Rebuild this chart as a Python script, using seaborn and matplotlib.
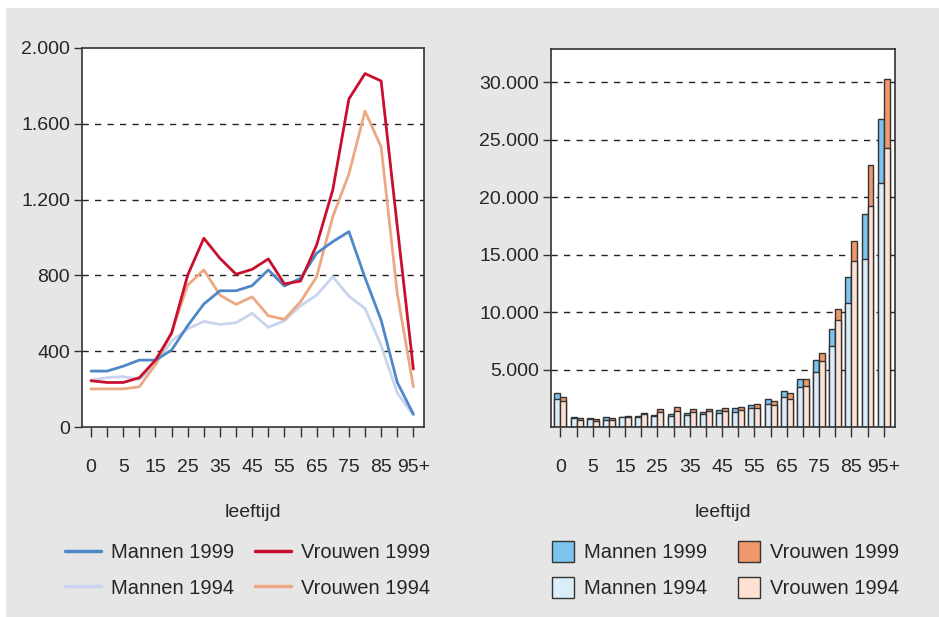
import matplotlib
matplotlib.use("Agg")
import matplotlib.pyplot as plt
import seaborn as sns
import pandas as pd
from matplotlib.patches import Rectangle, Patch
from matplotlib.lines import Line2D
from matplotlib import font_manager

# ---------------- data ----------------
ages = ['0', '1', '5', '10', '15', '20', '25', '30', '35', '40', '45', '50',
        '55', '60', '65', '70', '75', '80', '85', '90', '95+']

# left panel (lines)
mannen_1999_l = [295, 295, 321, 353, 353, 406, 535, 649, 719, 719, 746, 829,
                 744, 785, 917, 978, 1031, 788, 564, 236, 68]
mannen_1994_l = [247, 261, 266, 251, 330, 455, 518, 557, 541, 550, 600, 526,
                 561, 640, 696, 793, 690, 626, 430, 180, 62]
vrouwen_1999_l = [244, 235, 235, 260, 353, 495, 802, 996, 890, 806, 832, 887,
                  755, 770, 961, 1251, 1731, 1865, 1826, 1060, 306]
vrouwen_1994_l = [201, 201, 201, 212, 330, 500, 749, 829, 696, 647, 687, 587,
                  568, 661, 793, 1110, 1335, 1667, 1478, 705, 212]

# right panel (bars)
mannen_1999_b = [2980, 870, 790, 870, 870, 960, 1010, 1100, 1190, 1310, 1440, 1680,
                 1880, 2400, 3120, 4210, 5860, 8570, 13040, 18550, 26850]
mannen_1994_b = [2400, 750, 700, 610, 830, 870, 960, 1000, 1060, 1100, 1250, 1310,
                 1620, 2020, 2600, 3470, 4770, 7020, 10820, 14650, 21200]
vrouwen_1999_b = [2630, 750, 670, 750, 960, 1190, 1530, 1740, 1530, 1530, 1680, 1770,
                  1960, 2260, 2920, 4210, 6410, 10270, 16180, 22810, 30310]
vrouwen_1994_b = [2260, 610, 530, 640, 870, 1100, 1310, 1390, 1310, 1360, 1390, 1480,
                  1620, 1910, 2480, 3560, 5720, 9320, 14450, 19260, 24260]

left_yticks = [0, 400, 800, 1200, 1600, 2000]
left_ylabels = ['0', '400', '800', '1.200', '1.600', '2.000']
right_yticks = [5000, 10000, 15000, 20000, 25000, 30000]
right_ylabels = ['5.000', '10.000', '15.000', '20.000', '25.000', '30.000']

# ---------------- style ----------------
sns.set_style("ticks")
names = {f.name for f in font_manager.fontManager.ttflist}
fam = ['Liberation Sans Narrow', 'Liberation Sans', 'DejaVu Sans']
fam = [f for f in fam if f in names] or ['DejaVu Sans']
plt.rcParams['font.family'] = fam

FS = 14
LFS = 14.5
EDGE = '#333333'

fig = plt.figure(figsize=(9.39, 6.17), dpi=100)
fig.patch.set_facecolor('white')
fig.patches.append(Rectangle((6 / 939, 0), 1, 1 - 8 / 617, transform=fig.transFigure,
                             facecolor='#e6e6e6', edgecolor='none', zorder=-10))

axL = fig.add_axes([82 / 939, 1 - 427 / 617, 342 / 939, 379 / 617])
axR = fig.add_axes([551 / 939, 1 - 427 / 617, 344 / 939, 378 / 617])

pos = list(range(len(ages)))

# ---------------- left panel ----------------
line_series = [('Mannen 1994', mannen_1994_l, '#c8d4ee'),
               ('Vrouwen 1994', vrouwen_1994_l, '#eca883'),
               ('Mannen 1999', mannen_1999_l, '#4f87c7'),
               ('Vrouwen 1999', vrouwen_1999_l, '#c8102e')]
for name, vals, col in line_series:
    df = pd.DataFrame({'pos': pos, 'waarde': vals})
    sns.lineplot(data=df, x='pos', y='waarde', color=col, lw=2.0, ax=axL,
                 label=name, legend=False)

axL.set_ylim(0, 2000)
axL.set_xlim(-0.56, 20.66)

# ---------------- right panel ----------------
bar_rows = []
for i, a in enumerate(ages):
    bar_rows.append({'leeftijd': a, 'geslacht': 'Mannen', 'jaar': 1999, 'waarde': mannen_1999_b[i]})
    bar_rows.append({'leeftijd': a, 'geslacht': 'Vrouwen', 'jaar': 1999, 'waarde': vrouwen_1999_b[i]})
    bar_rows.append({'leeftijd': a, 'geslacht': 'Mannen', 'jaar': 1994, 'waarde': mannen_1994_b[i]})
    bar_rows.append({'leeftijd': a, 'geslacht': 'Vrouwen', 'jaar': 1994, 'waarde': vrouwen_1994_b[i]})
bars = pd.DataFrame(bar_rows)

bar_colors = {1999: {'Mannen': '#7cc3ee', 'Vrouwen': '#f0986b'},
              1994: {'Mannen': '#dcedfa', 'Vrouwen': '#fde1d3'}}
for jaar in (1999, 1994):
    sns.barplot(data=bars[bars['jaar'] == jaar], x='leeftijd', y='waarde',
                hue='geslacht', hue_order=['Mannen', 'Vrouwen'], order=ages,
                palette=bar_colors[jaar], width=0.74, dodge=True, saturation=1,
                edgecolor=EDGE, linewidth=1.0, errorbar=None, legend=False, ax=axR)

axR.set_ylim(0, 32900)
axR.set_xlim(-0.58, 20.7)

# ---------------- common axis styling ----------------
for ax, yt, yl in ((axL, left_yticks, left_ylabels), (axR, right_yticks, right_ylabels)):
    ax.set_facecolor('white')
    ax.set_yticks(yt)
    ax.set_yticklabels(yl)
    ax.set_xticks(pos)
    ax.set_xticklabels([a if i % 2 == 0 else '' for i, a in enumerate(ages)])
    ax.tick_params(axis='y', direction='out', length=6, width=1, color=EDGE,
                   labelsize=FS, pad=2.5)
    ax.tick_params(axis='x', direction='out', length=7, width=1, color=EDGE,
                   labelsize=FS, pad=16)
    for s in ax.spines.values():
        s.set_visible(True)
        s.set_color(EDGE)
        s.set_linewidth(1.2)
    ax.set_xlabel('leeftijd', fontsize=FS, labelpad=20)
    ax.set_ylabel('')
    ax.set_axisbelow(True)
    for v in yt:
        if 0 < v < ax.get_ylim()[1] * 0.99:
            ax.axhline(v, color='#222222', lw=1.0, ls=(0, (4.5, 4.5)), zorder=0.5)

# ---------------- legends ----------------
lh = {n: Line2D([], [], color=c, lw=2.5) for n, _, c in line_series}
order = ['Mannen 1999', 'Mannen 1994', 'Vrouwen 1999', 'Vrouwen 1994']
axL.legend([lh[n] for n in order], order, ncol=2, frameon=False,
           loc='upper left', bbox_to_anchor=(65 / 939, 1 - 543 / 617),
           bbox_transform=fig.transFigure, borderpad=0, borderaxespad=0,
           fontsize=LFS, handlelength=1.8, handletextpad=0.5,
           columnspacing=1.0, labelspacing=0.82)

ph = [Patch(facecolor=bar_colors[1999]['Mannen'], edgecolor=EDGE, lw=1.0),
      Patch(facecolor=bar_colors[1994]['Mannen'], edgecolor=EDGE, lw=1.0),
      Patch(facecolor=bar_colors[1999]['Vrouwen'], edgecolor=EDGE, lw=1.0),
      Patch(facecolor=bar_colors[1994]['Vrouwen'], edgecolor=EDGE, lw=1.0)]
axR.legend(ph, order, ncol=2, frameon=False,
           loc='upper left', bbox_to_anchor=(552 / 939, 1 - 541 / 617),
           bbox_transform=fig.transFigure, borderpad=0, borderaxespad=0,
           fontsize=LFS, handlelength=1.07, handleheight=1.19, handletextpad=0.5,
           columnspacing=1.55, labelspacing=0.75)

fig.savefig('out.png', dpi=100, facecolor=fig.get_facecolor())
